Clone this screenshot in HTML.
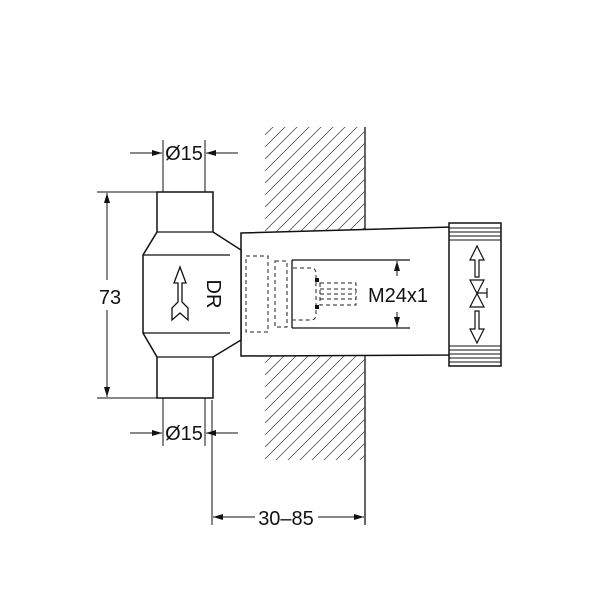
<!DOCTYPE html>
<html><head><style>
html,body{margin:0;padding:0;background:#fff;}
svg{display:block;}
text{font-family:"Liberation Sans",sans-serif;fill:#111;}
</style></head><body>
<svg width="600" height="600" viewBox="0 0 600 600" xmlns="http://www.w3.org/2000/svg">
<defs>
<clipPath id="wc"><rect x="265" y="127" width="100" height="333"/></clipPath>
<marker id="a" markerWidth="10" markerHeight="6" refX="10" refY="3" orient="auto" markerUnits="userSpaceOnUse"><path d="M0,0 L10,3 L0,6 z" fill="#111"/></marker>
</defs>
<g clip-path="url(#wc)" stroke="#555" stroke-width="0.8">
<line x1="265" y1="135" x2="365" y2="35"/><line x1="265" y1="147" x2="365" y2="47"/><line x1="265" y1="159" x2="365" y2="59"/><line x1="265" y1="171" x2="365" y2="71"/><line x1="265" y1="183" x2="365" y2="83"/><line x1="265" y1="195" x2="365" y2="95"/><line x1="265" y1="207" x2="365" y2="107"/><line x1="265" y1="219" x2="365" y2="119"/><line x1="265" y1="231" x2="365" y2="131"/><line x1="265" y1="243" x2="365" y2="143"/><line x1="265" y1="255" x2="365" y2="155"/><line x1="265" y1="267" x2="365" y2="167"/><line x1="265" y1="279" x2="365" y2="179"/><line x1="265" y1="291" x2="365" y2="191"/><line x1="265" y1="303" x2="365" y2="203"/><line x1="265" y1="315" x2="365" y2="215"/><line x1="265" y1="327" x2="365" y2="227"/>
<line x1="265" y1="339" x2="365" y2="239"/><line x1="265" y1="351" x2="365" y2="251"/><line x1="265" y1="363" x2="365" y2="263"/><line x1="265" y1="375" x2="365" y2="275"/><line x1="265" y1="387" x2="365" y2="287"/><line x1="265" y1="399" x2="365" y2="299"/><line x1="265" y1="411" x2="365" y2="311"/><line x1="265" y1="423" x2="365" y2="323"/><line x1="265" y1="435" x2="365" y2="335"/><line x1="265" y1="447" x2="365" y2="347"/><line x1="265" y1="459" x2="365" y2="359"/><line x1="265" y1="471" x2="365" y2="371"/><line x1="265" y1="483" x2="365" y2="383"/><line x1="265" y1="495" x2="365" y2="395"/><line x1="265" y1="507" x2="365" y2="407"/><line x1="265" y1="519" x2="365" y2="419"/><line x1="265" y1="531" x2="365" y2="431"/><line x1="265" y1="543" x2="365" y2="443"/><line x1="265" y1="555" x2="365" y2="455"/>
</g>
<line x1="365" y1="127" x2="365" y2="525" stroke="#333" stroke-width="1.5"/>
<g stroke="#111" stroke-width="1.5" fill="#fff">
<path d="M241,233 L452,227 L452,355 L241,356 Z"/>
<path d="M157,232 L157,192 L213,192 L213,232 L241,250 L241,340 L213,357 L213,398 L157,398 L157,357 L143,333 L143,255 L157,232 Z"/>
</g>
<g stroke="#111" stroke-width="1.3" fill="none">
<line x1="143" y1="255" x2="230" y2="255"/>
<line x1="143" y1="333" x2="230" y2="333"/>
<line x1="157" y1="232" x2="213" y2="232"/>
<line x1="157" y1="357" x2="213" y2="357"/>
<line x1="292" y1="260" x2="410" y2="260"/>
<line x1="292" y1="328" x2="410" y2="328"/>
<line x1="292" y1="260" x2="292" y2="328"/>
</g>
<g stroke="#222" stroke-width="1" fill="none" stroke-dasharray="4,3">
<rect x="246" y="256" width="22" height="76"/>
<rect x="275" y="261" width="12" height="66"/>
<path d="M293,268 h18 q5,0 5,6 v40 q0,6 -5,6 h-18"/>
<rect x="320" y="283" width="36" height="22"/>
<line x1="320" y1="289" x2="356" y2="289"/><line x1="320" y1="294" x2="356" y2="294"/><line x1="320" y1="299" x2="356" y2="299"/>
</g>
<rect x="315" y="278" width="4" height="4" fill="#111"/>
<rect x="315" y="305" width="4" height="4" fill="#111"/>
<path d="M180,267 L186,283 L182,283 L182,302 L188,308 L188,320 L180,313 L172,320 L172,308 L178,302 L178,283 L174,283 Z" fill="#fff" stroke="#111" stroke-width="1.3"/>
<text x="207" y="294" font-size="20" transform="rotate(90 207 294)" text-anchor="middle">DR</text>
<rect x="449" y="223" width="52" height="143" fill="#fff" stroke="#111" stroke-width="1.5"/>
<g stroke="#111" stroke-width="1">
<line x1="449" y1="228" x2="501" y2="228"/><line x1="449" y1="232" x2="501" y2="232"/><line x1="449" y1="236" x2="501" y2="236"/><line x1="449" y1="240" x2="501" y2="240"/>
<line x1="449" y1="346" x2="501" y2="346"/><line x1="449" y1="350" x2="501" y2="350"/><line x1="449" y1="354" x2="501" y2="354"/><line x1="449" y1="358" x2="501" y2="358"/><line x1="449" y1="362" x2="501" y2="362"/>
</g>
<g fill="#fff" stroke="#111" stroke-width="1.2">
<path d="M477,246 L470,260 L475,260 L475,277 L479,277 L479,260 L484,260 Z"/>
<path d="M470,280 L484,280 L470,307 L484,307 Z"/>
<path d="M477,343 L470,329 L475,329 L475,311 L479,311 L479,329 L484,329 Z"/>
</g>
<line x1="477" y1="293" x2="487" y2="293" stroke="#111" stroke-width="1.2"/>
<line x1="487" y1="288" x2="487" y2="298" stroke="#111" stroke-width="1.2"/>
<g stroke="#111" stroke-width="1" fill="none">
<line x1="163" y1="140" x2="163" y2="192"/><line x1="205" y1="140" x2="205" y2="192"/>
<line x1="130" y1="153" x2="162" y2="153" marker-end="url(#a)"/>
<line x1="238" y1="153" x2="206" y2="153" marker-end="url(#a)"/>
<line x1="163" y1="398" x2="163" y2="446"/><line x1="205" y1="398" x2="205" y2="446"/>
<line x1="130" y1="433" x2="162" y2="433" marker-end="url(#a)"/>
<line x1="238" y1="433" x2="206" y2="433" marker-end="url(#a)"/>
<line x1="97" y1="192" x2="157" y2="192"/><line x1="97" y1="398" x2="157" y2="398"/>
<line x1="107" y1="280" x2="107" y2="193" marker-end="url(#a)"/>
<line x1="107" y1="310" x2="107" y2="397" marker-end="url(#a)"/>
<line x1="212" y1="400" x2="212" y2="525"/>
<line x1="255" y1="517" x2="213" y2="517" marker-end="url(#a)"/>
<line x1="318" y1="517" x2="364" y2="517" marker-end="url(#a)"/>
<line x1="397" y1="276" x2="397" y2="261" marker-end="url(#a)"/>
<line x1="397" y1="312" x2="397" y2="327" marker-end="url(#a)"/>
</g>
<text x="184" y="160" font-size="20" text-anchor="middle">Ø15</text>
<text x="184" y="440" font-size="20" text-anchor="middle">Ø15</text>
<text x="110" y="304" font-size="20" text-anchor="middle" style="paint-order:stroke" stroke="#fff" stroke-width="6">73</text>
<text x="286" y="525" font-size="20" text-anchor="middle">30–85</text>
<text x="398" y="302" font-size="20" text-anchor="middle" style="paint-order:stroke" stroke="#fff" stroke-width="6">M24x1</text>
</svg>
</body></html>
